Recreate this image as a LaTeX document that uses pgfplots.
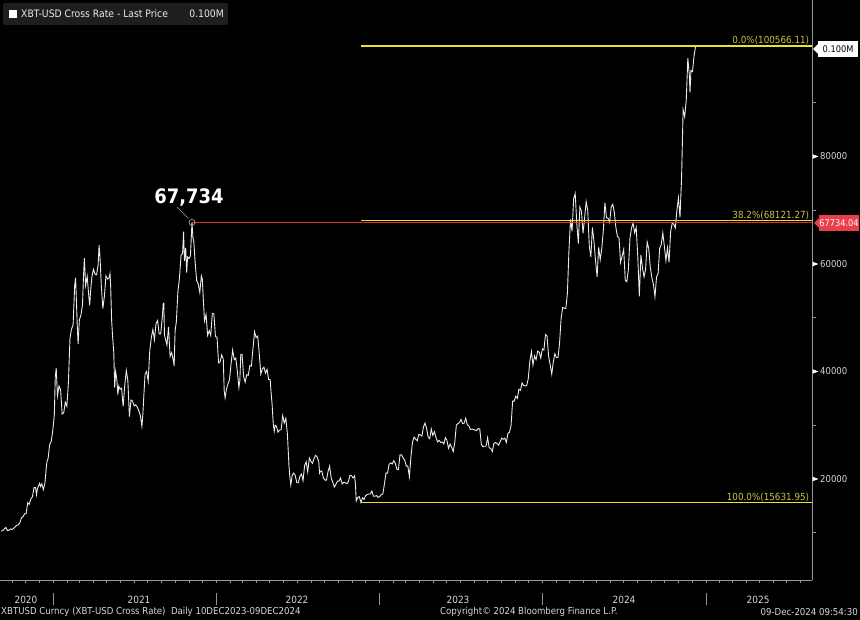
\documentclass[border=0pt]{standalone}
\usepackage{fontspec}
\setmainfont{DejaVu Sans}[FakeStretch=0.9]
\usepackage{pgfplots}
\usepackage{pgfplotstable}
\pgfplotsset{compat=1.18}
\definecolor{fibyel}{RGB}{236,226,40}
\definecolor{fibtxt}{RGB}{200,194,70}
\definecolor{redln}{RGB}{222,45,50}
\definecolor{redbox}{RGB}{232,64,74}
\definecolor{axgray}{RGB}{150,150,150}
\definecolor{lbl}{RGB}{215,215,215}
\definecolor{legbg}{RGB}{30,30,30}
\newcommand\sm{\fontsize{9.6}{11}\selectfont}

% week index k: 0 = 07-Sep-2020, 222 = 09-Dec-2024
\pgfplotstableread{
k v
0 10300
0.5 10400
1 10700
1.5 11000
2 10400
2.5 10500
3 10700
3.5 10600
4 10800
4.5 11100
5 11400
5.5 11500
6 11900
6.5 12800
7 13000
7.5 13500
8 13600
8.5 15600
9 15300
9.5 16300
10 16700
10.5 18400
11 18400
11.3 17100
11.6 18200
12 18800
12.3 19200
12.6 18600
13 19100
13.5 18000
14 19300
14.3 21300
14.6 23100
15 23800
15.5 26400
16 27000
16.5 29000
17 32000
17.3 39000
17.6 40600
18 35500
18.5 37300
19 36600
19.5 32100
20 32300
20.5 34300
21 33500
21.5 38000
22 46200
22.5 47900
23 48700
23.5 56000
23.8 57400
24 54100
24.3 48900
24.6 45100
25 49600
25.5 50500
26 52400
26.3 57400
26.6 61100
27 56000
27.5 57700
28 54100
28.3 52300
28.6 55000
29 57600
29.5 59000
30 58100
30.5 58000
31 59800
31.3 63500
31.6 61300
32 56200
32.5 51700
33 54000
33.5 57800
34 57200
34.5 57400
34.8 58200
35 56000
35.3 49700
35.6 46700
36 43500
36.3 37000
36.6 40000
37 38400
37.3 35700
37.6 37300
38 36700
38.5 36900
39 33500
39.5 37400
40 40200
40.5 38300
41 31600
41.5 34700
42 34500
42.5 33600
43 33800
43.5 33400
44 32700
44.5 31800
45 29800
45.3 32100
45.6 35400
46 39500
46.5 40000
47 38200
47.5 43800
48 46300
48.5 47800
49 45900
49.5 48900
50 49500
50.5 47000
51 47000
51.5 50000
51.8 52600
52 52700
52.2 46800
52.5 46100
53 44900
53.5 48300
54 42800
54.5 43500
55 42200
55.3 41000
55.6 47600
56 49200
56.5 54900
57 57400
57.5 61600
58 62000
58.3 66000
58.6 60600
59 63000
59.3 58400
59.6 61300
60 61000
60.5 61500
61 67734
61.3 64900
61.6 64100
62 60400
62.5 56900
63 56300
63.5 54700
64 57800
64.3 57200
64.6 53700
65 49400
65.5 50600
66 46700
66.5 47600
67 46700
67.5 50800
68 50700
68.5 46500
69 46400
69.5 41600
70 41800
70.5 43100
71 42300
71.3 36400
71.6 35100
72 36700
72.5 37700
73 38500
73.5 41500
74 44000
74.5 42200
75 42500
75.5 40000
76 37000
76.3 38300
76.6 43200
77 43200
77.5 39100
78 38000
78.5 39400
79 39300
79.5 41100
80 41000
80.5 44300
81 47400
81.5 46300
82 46600
82.5 43400
83 39500
83.5 40500
84 40800
84.5 39700
85 40400
85.5 38500
86 38500
86.3 36000
86.6 34000
87 30100
87.3 28900
87.6 30000
88 29800
88.5 28700
89 29100
89.5 29200
90 31800
90.5 30400
91 31300
91.5 28400
92 22500
92.3 20300
92.6 18900
93 20600
93.5 21100
94 20700
94.5 19300
95 19300
95.5 20500
96 20900
96.5 19700
97 22500
97.5 23200
98 21300
98.5 23900
99 23300
99.5 22900
100 23800
100.5 24400
101 24100
101.5 23300
101.8 21100
102 21400
102.5 21500
103 20200
103.5 19800
104 19800
104.5 21400
105 22400
105.5 20200
106 19400
106.5 18500
107 19000
107.5 19600
108 19600
108.5 20200
109 19100
109.5 19400
110 19300
110.5 19100
111 19500
111.5 20700
112 20600
112.5 20200
113 20600
113.3 18500
113.5 15900
114 16600
114.5 16700
115 15632
115.5 16500
116 16200
116.5 16900
117 17100
117.5 17200
118 17200
118.5 17800
119 16800
119.5 16800
120 16900
120.5 16600
121 16700
121.5 17100
122 17200
122.5 19000
123 21100
123.5 21100
124 22700
124.5 23000
125 22800
125.5 23400
126 22900
126.5 21800
127 21800
127.5 24500
128 24500
128.5 23900
129 23500
129.5 22400
130 22400
130.5 20400
131 24200
131.5 26900
132 27800
132.5 27400
133 27100
133.5 28300
134 28200
134.5 28000
135 29700
135.5 30400
136 29400
136.5 27800
137 27500
137.5 29300
138 28100
138.5 28800
139 27700
139.5 26900
140 27200
140.5 26800
141 26900
141.5 26500
142 27700
142.5 27200
143 25700
143.5 26500
144 25900
144.5 25100
145 26800
145.5 30000
146 30300
146.5 30500
147 31100
147.5 30300
148 30400
148.5 31300
149 30100
149.5 29900
150 29200
150.5 29300
151 29200
151.5 29100
152 29000
152.5 29400
153 29300
153.5 26400
154 26000
154.5 26100
155 26100
155.5 27700
156 25800
156.5 25700
157 25100
157.5 26600
158 26800
158.5 26600
159 26300
159.5 26900
160 27600
160.5 27400
161 27600
161.5 26800
162 28500
162.5 28700
163 30000
163.5 34500
164 34500
164.5 35400
165 35000
165.5 36700
166 36500
166.5 37900
167 37400
167.5 37300
168 37400
168.5 38700
169 41900
169.5 43700
170 41200
170.5 42900
171 42200
171.5 43800
172 43600
172.5 42500
173 44200
173.5 44000
174 46900
174.5 46600
175 42800
175.5 41300
176 39500
176.5 41800
177 43300
177.5 42600
178 42600
178.5 45300
179 49900
179.5 51900
180 51800
180.5 51700
181 54500
181.5 62500
182 68300
182.5 66100
183 72100
183.5 73100
184 67600
184.5 63800
185 70600
185.5 69800
186 65700
186.5 68500
187 71600
187.5 70000
188 63400
188.5 61300
189 66800
189.5 64200
190 60600
190.5 57600
191 63100
191.5 60800
192 62900
192.5 66300
193 71400
193.5 68600
194 68500
194.5 67700
195 70600
195.5 71100
196 69600
196.5 66800
197 65100
197.5 64900
198 60300
198.5 61500
199 62700
199.5 57000
200 56700
200.5 59000
201 64800
201.5 66700
202 67600
202.5 65800
203 66800
203.5 61400
204 54000
204.5 61700
205 59300
205.5 57600
206 59000
206.5 64100
207 62900
207.5 59400
208 57500
208.5 56200
209 53900
209.5 57600
210 58200
210.5 62900
211 63600
211.5 65800
212 63300
212.5 60600
213 63000
213.5 60300
214 66000
214.5 67600
215 67400
215.5 66700
216 69900
216.5 72300
217 68700
217.5 76000
218 88700
218.5 87400
219 90500
219.5 98300
220 95000
220.2 91900
220.5 96000
221 95800
221.5 98800
222 100566
}\btc

\begin{document}
\begin{tikzpicture}[x=1bp,y=1bp]
\useasboundingbox (0,-40) rectangle (860,580);
\fill[black] (0,-40) rectangle (860,580);
\begin{axis}[
  at={(0,0)}, anchor=south west,
  scale only axis, width=812bp, height=580bp,
  xmin=-0.37, xmax=259.2, ymin=1209, ymax=109118,
  axis x line*=bottom, axis y line*=right,
  axis line style={-, draw=axgray, line width=0.8bp},
  clip=false,
  scaled x ticks=false, scaled y ticks=false,
  major tick length=0pt, minor tick length=3.5bp,
  tick align=outside,
  xtick={7.94,44.07,94.58,146.05,199.1,241.96},
  xticklabels={2020,2021,2022,2023,2024,2025},
  minor xtick={3.43,7.857,12.143,16.571,21,25,29.43,33.71,38.14,42.43,46.86,51.29,55.57,60,64.29,68.71,73.14,77.14,81.57,85.86,90.29,94.57,99,103.43,107.71,112.14,116.43,120.86,125.29,129.29,133.71,138,142.43,146.71,151.14,155.57,159.86,164.29,168.57,173,177.43,181.57,186,190.29,194.71,199,203.43,207.86,212.14,216.57,220.86,225.29,229.71,233.71,238.14,242.43,246.86,251.14,255.57},
  minor tick style={draw=axgray, line width=0.7bp},
  xticklabel style={text=lbl, font=\fontsize{10}{11}\selectfont, anchor=center, yshift=-20bp},
  ytick={20000,40000,60000,80000},
  yticklabels={20000,40000,60000,80000},
  minor ytick={10000,30000,50000,70000,90000},
  yticklabel style={text=lbl, font=\fontsize{9.5}{11}\selectfont, anchor=west, inner sep=0pt, xshift=8bp},
]
% price
\addplot[draw=white!92!black, line width=0.9bp, mark=none] table[x=k,y=v]{\btc};
% red level from the 2021 high
\addplot[redln, line width=1.4bp, mark=none] coordinates {(61,67734.04) (259.2,67734.04)};
% fibonacci levels
\addplot[fibyel, line width=1.4bp, mark=none] coordinates {(115.04,68121.27) (259.2,68121.27)};
\addplot[fibyel, line width=1.4bp, mark=none] coordinates {(115.04,100566.11) (259.2,100566.11)};
\addplot[fibyel, line width=1.4bp, mark=none] coordinates {(115.04,15631.95) (259.2,15631.95)};
% marker at the 2021 high
\addplot[only marks, mark=o, mark size=3bp, mark options={draw=white!65!black, line width=0.7bp}] coordinates {(61,67734.04)};
\node[anchor=base, text=white, inner sep=0pt, font=\bfseries\fontsize{20}{20}\selectfont, xshift=-3bp, yshift=19bp] at (axis cs:61,67734.04) {67,734};
% fib labels
\node[anchor=south east, text=fibtxt, inner sep=0.8bp, font=\fontsize{9.8}{11}\selectfont] at (axis cs:258.6,100566.11) {0.0\%(100566.11)};
\node[anchor=south east, text=fibtxt, inner sep=0.8bp, font=\fontsize{9.8}{11}\selectfont] at (axis cs:258.6,68121.27) {38.2\%(68121.27)};
\node[anchor=south east, text=fibtxt, inner sep=0.8bp, font=\fontsize{9.8}{11}\selectfont] at (axis cs:258.6,15631.95) {100.0\%(15631.95)};
\end{axis}
% leader line of the 67,734 callout (picture pixels: y = 580 - py)
\draw[white!65!black, line width=0.6bp] (188.5,361.5) -- (177,373);
% y tick flags
\foreach \yy in {101,208.5,316,423.5}{
  \fill[white] (812.5,\yy+2.3) -- (818.5,\yy) -- (812.5,\yy-2.3) -- cycle;
}
% right-side value tags
\fill[white] (813,531) -- (818.5,536.5) -- (818.5,525.5) -- cycle;
\fill[white] (818,523) rectangle (858,539);
\node[text=black, inner sep=0pt, font=\fontsize{9.2}{10}\selectfont] at (838,531) {0.100M};
\fill[redbox] (814,357) -- (819.5,362.5) -- (819.5,351.5) -- cycle;
\fill[redbox] (819,349) rectangle (859,365);
\node[text=white, inner sep=0pt, font=\fontsize{9.2}{10}\selectfont] at (839,357) {67734.04};
% year separators
\foreach \xx in {53,216,379,542,706}{
  \draw[axgray, line width=0.8bp] (\xx,-13) -- (\xx,-25);
}
% legend box
\fill[legbg, rounded corners=1.5bp] (3,555) rectangle (228,577);
\fill[white] (9,562) rectangle (17,570);
\node[anchor=west, text=white!92!black, inner sep=0pt, font=\fontsize{10.3}{12}\selectfont] at (21,566) {XBT-USD Cross Rate - Last Price};
\node[anchor=east, text=white!92!black, inner sep=0pt, font=\fontsize{10.3}{12}\selectfont] at (224,566) {0.100M};
% footer
\node[anchor=west, text=lbl, inner sep=0pt, font=\sm] at (1,-32) {XBTUSD Curncy (XBT-USD Cross Rate)\ \ Daily 10DEC2023-09DEC2024};
\node[anchor=west, text=lbl, inner sep=0pt, font=\sm] at (440,-32) {Copyright© 2024 Bloomberg Finance L.P.};
\node[anchor=east, text=lbl, inner sep=0pt, font=\sm] at (858,-32) {09-Dec-2024 09:54:30};
\end{tikzpicture}
\end{document}
